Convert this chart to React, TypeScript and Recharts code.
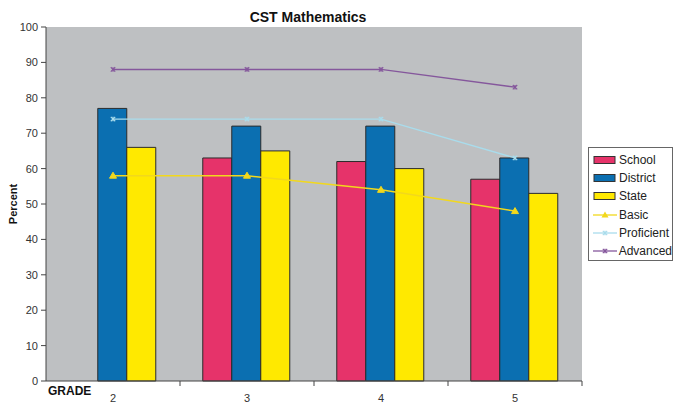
import React from 'react';
import { ComposedChart, Bar, Line, XAxis, YAxis, CartesianGrid, Legend } from 'recharts';

const grades = ['2', '3', '4', '5'];
const school = [null, 63, 62, 57];
const district = [77, 72, 72, 63];
const state = [66, 65, 60, 53];
const basic = [58, 58, 54, 48];
const proficient = [74, 74, 74, 63];
const advanced = [88, 88, 88, 83];
const yTicks = [0, 10, 20, 30, 40, 50, 60, 70, 80, 90, 100];

const COLORS = {
  School: '#e6336a',
  District: '#0b6fb1',
  State: '#ffe900',
  Basic: '#f2d81c',
  Proficient: '#a9dcec',
  Advanced: '#85579c',
};

const data = grades.map((g, i) => ({
  grade: g,
  School: school[i],
  District: district[i],
  State: state[i],
  Basic: basic[i],
  Proficient: proficient[i],
  Advanced: advanced[i],
}));

const FONT = '"Liberation Sans", Arial, sans-serif';

const Triangle = (props: any) => {
  const { cx, cy, fill } = props;
  if (cx == null || cy == null) return null;
  return <polygon points={`${cx},${cy - 3.5} ${cx - 3.5},${cy + 2.5} ${cx + 3.5},${cy + 2.5}`} fill={fill} stroke={fill} />;
};

const Star = (props: any) => {
  const { cx, cy, stroke } = props;
  if (cx == null || cy == null) return null;
  const r = 2.2;
  return (
    <g stroke={stroke} strokeWidth={1.2}>
      <line x1={cx - r} y1={cy - r} x2={cx + r} y2={cy + r} />
      <line x1={cx - r} y1={cy + r} x2={cx + r} y2={cy - r} />
      <line x1={cx} y1={cy - r} x2={cx} y2={cy + r} />
    </g>
  );
};

const XTick = (props: any) => {
  const { x, y, payload } = props;
  const off = payload && payload.offset ? payload.offset : 67;
  return (
    <g>
      <line x1={x + off} x2={x + off} y1={y} y2={y + 5} stroke="#444" />
      <text x={x} y={y + 21} textAnchor="middle" fontSize={11} fill="#333" fontFamily={FONT}>
        {payload.value}
      </text>
    </g>
  );
};

const YLabel = (props: any) => {
  const { viewBox } = props;
  const cy = viewBox.y + viewBox.height / 2;
  const x = 17;
  return (
    <text x={x} y={cy} transform={`rotate(-90, ${x}, ${cy})`} textAnchor="middle" fontSize={11} fontWeight="bold" fill="#111" fontFamily={FONT}>
      Percent
    </text>
  );
};

const legendItems = [
  { name: 'School', kind: 'bar' },
  { name: 'District', kind: 'bar' },
  { name: 'State', kind: 'bar' },
  { name: 'Basic', kind: 'tri' },
  { name: 'Proficient', kind: 'star' },
  { name: 'Advanced', kind: 'star' },
];

const renderLegend = () => (
  <div
    style={{
      width: 85,
      height: 114,
      boxSizing: 'border-box',
      border: '1px solid #666',
      background: '#fff',
      padding: '3px 0 0 4px',
      fontFamily: FONT,
      fontSize: 12,
      color: '#222',
    }}
  >
    {legendItems.map((it) => {
      const c = (COLORS as any)[it.name];
      return (
        <div key={it.name} style={{ display: 'flex', alignItems: 'center', height: 18.2 }}>
          <svg width={24} height={10} style={{ marginRight: 2 }}>
            {it.kind === 'bar' ? (
              <rect x={1} y={1.5} width={21} height={7} fill={c} stroke="#333" />
            ) : (
              <g>
                <line x1={0} x2={24} y1={5} y2={5} stroke={c} strokeWidth={1.3} />
                {it.kind === 'tri' ? (
                  <polygon points="12,1.5 8.5,7.5 15.5,7.5" fill={c} />
                ) : (
                  <Star cx={12} cy={5} stroke={c} />
                )}
              </g>
            )}
          </svg>
          <span>{it.name}</span>
        </div>
      );
    })}
  </div>
);

export default function App() {
  return (
    <div style={{ position: 'absolute', left: 0, top: 0, width: 673, height: 403, background: '#fff' }}>
      <div
        style={{
          position: 'absolute',
          left: 308,
          top: 9,
          transform: 'translateX(-50%)',
          fontFamily: FONT,
          fontWeight: 'bold',
          fontSize: 14,
          color: '#111',
          whiteSpace: 'nowrap',
        }}
      >
        CST Mathematics
      </div>
      <div
        style={{
          position: 'absolute',
          left: 48,
          top: 384,
          fontFamily: FONT,
          fontWeight: 'bold',
          fontSize: 12,
          color: '#111',
        }}
      >
        GRADE
      </div>
      <ComposedChart
        width={673}
        height={403}
        data={data}
        margin={{ top: 27, right: 6, bottom: 0, left: 16 }}
        barGap={0}
        barCategoryGap="17%"
      >
        <CartesianGrid horizontal={false} vertical={false} fill="#bec0c2" stroke="none" />
        <XAxis
          dataKey="grade"
          height={22}
          tickSize={0}
          tickMargin={0}
          tickLine={false}
          stroke="#444"
          tick={<XTick />}
          interval={0}
        />
        <YAxis
          width={30}
          domain={[0, 100]}
          ticks={yTicks}
          interval={0}
          tickSize={5}
          tickMargin={3}
          stroke="#444"
          tick={{ fontSize: 11, fill: '#333', fontFamily: FONT }}
          label={<YLabel />}
        />
        <Legend
          layout="vertical"
          align="right"
          verticalAlign="middle"
          content={renderLegend}
          wrapperStyle={{ right: 0, top: 147, width: 85, height: 114 }}
        />
        <Bar dataKey="School" fill={COLORS.School} stroke="#2b2b2b" strokeWidth={1} isAnimationActive={false} />
        <Bar dataKey="District" fill={COLORS.District} stroke="#2b2b2b" strokeWidth={1} isAnimationActive={false} />
        <Bar dataKey="State" fill={COLORS.State} stroke="#2b2b2b" strokeWidth={1} isAnimationActive={false} />
        <Line dataKey="Basic" stroke={COLORS.Basic} strokeWidth={1.5} dot={<Triangle fill={COLORS.Basic} />} activeDot={false} isAnimationActive={false} />
        <Line dataKey="Proficient" stroke={COLORS.Proficient} strokeWidth={1.3} dot={<Star stroke={COLORS.Proficient} />} activeDot={false} isAnimationActive={false} />
        <Line dataKey="Advanced" stroke={COLORS.Advanced} strokeWidth={1.3} dot={<Star stroke={COLORS.Advanced} />} activeDot={false} isAnimationActive={false} />
      </ComposedChart>
    </div>
  );
}
